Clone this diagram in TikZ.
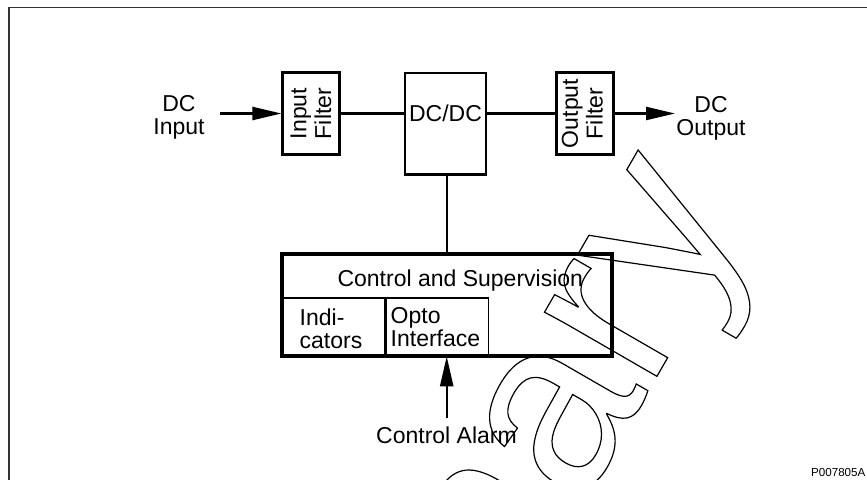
\documentclass[tikz,border=0pt]{standalone}
\usepackage{fontspec}
\setmainfont{Liberation Sans}
\usetikzlibrary{arrows.meta}
\newcommand\lblsize{\fontsize{23}{23}\selectfont}
\newcommand\rotsize{\fontsize{23}{24.8}\selectfont}
\newcommand\wmsize{\fontsize{245}{245}\selectfont}
\begin{document}
\begin{tikzpicture}[x=1pt,y=-1pt,
  blk/.style={draw, line width=2.6pt, inner sep=0pt},
  cell/.style={draw, line width=1.7pt, inner sep=0pt},
  conn/.style={line width=2.3pt},
  arr/.style={conn, -{Triangle[length=29pt,width=13pt]}},
  lbl/.style={font=\lblsize, inner sep=0pt},
  rotlbl/.style={font=\rotsize, inner sep=0pt, rotate=90, align=center},
  wmark/.style={font=\wmsize, inner sep=0pt, rotate=60}
]
\useasboundingbox (0,0) rectangle (867,479);
% frame
\draw[line width=1.5pt, black!80] (9,7.5) rectangle (920,540);
% watermark
\node[wmark, anchor=base east] (wm) at (750.7,213.9)
  {\special{pdf:literal 1 Tr 1.2 w}Preliminary\special{pdf:literal 0 Tr}};
% top row
\node[blk, minimum width=56.6pt, minimum height=82.5pt] (inf) at (311,113.5) {};
\node[rotlbl] (inft) at (inf.center) {Input\\Filter};
\node[blk, minimum width=81pt, minimum height=101.6pt, anchor=north] (dcdc) at (445.5,71.7) {};
\node[lbl, anchor=north] (dcdct) at (445.5,105) {DC/DC};
\node[blk, minimum width=56.6pt, minimum height=82.5pt] (outf) at (585,113.5) {};
\node[rotlbl] (outft) at (582.4,113.5) {Output\\Filter};
\coordinate (inA) at (220,113.5);
\coordinate (outA) at (675,113.5);
\draw[arr] (inA) -- (inf.west);
\draw[conn] (inf.east) -- (dcdc.west |- inf.east);
\draw[conn] (dcdc.east |- outf.west) -- (outf.west);
\draw[arr] (outf.east) -- (outA);
\node[lbl, anchor=north, align=center] (inl) at (179,95) {DC\\Input};
\node[lbl, anchor=north, align=center] (outl) at (711,96.7) {DC\\Output};
% control block
\node[blk, minimum width=328.7pt, minimum height=100pt] (ctrl) at (446.7,305) {};
\node[cell, minimum width=102.7pt, minimum height=57.3pt, anchor=south west] (ind) at (ctrl.south west) {};
\node[cell, minimum width=102.3pt, minimum height=57.3pt, anchor=south west] (opto) at (ind.south east) {};
\draw[line width=2.6pt] (ctrl.south west) rectangle (ctrl.north east);
\draw[conn] (dcdc.south -| ctrl.north) -- (ctrl.north);
\node[lbl, anchor=north] (cst) at (460.3,269.3) {Control and Supervision};
\node[lbl, anchor=north west, align=left] (indt) at (299.5,308.3) {Indi-\\cators};
\node[lbl, anchor=north west, align=left] (optot) at (390.5,307.7) {Opto\\Interface};
\coordinate (alA) at (446.7,418.3);
\draw[arr, -{Triangle[length=30pt,width=13pt]}] (alA) -- (alA |- ctrl.south);
\node[lbl, anchor=north] (calt) at (446.5,427) {Control Alarm};
\node[font=\fontsize{11.6}{12}\selectfont, inner sep=0pt, anchor=base west] (pid) at (811,476.7) {P007805A};
\end{tikzpicture}
\end{document}
